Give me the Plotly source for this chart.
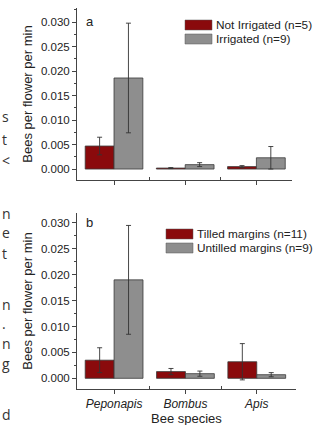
import plotly.graph_objects as go

species = ["Peponapis", "Bombus", "Apis"]
xpos = [0, 1, 2]

# Panel a
not_irrigated = [0.0047, 0.0002, 0.0005]
not_irrigated_err = [0.0018, 0.0001, 0.0002]
irrigated = [0.0186, 0.0009, 0.0023]
irrigated_err = [0.0112, 0.0004, 0.0023]

# Panel b
tilled = [0.0035, 0.0013, 0.0032]
tilled_err = [0.0024, 0.0006, 0.0035]
untilled = [0.0190, 0.0009, 0.0007]
untilled_err = [0.0105, 0.0005, 0.0004]

yticks = [0.000, 0.005, 0.010, 0.015, 0.020, 0.025, 0.030]

RED = "#8a0a0c"
GRAY = "#8e8e8e"
W, H = 328, 425

def py(px):
    return 1 - px / H

fig = go.Figure()

def bar(x, y, err, color, xa, ya):
    return go.Bar(
        x=x, y=y, marker=dict(color=color, line=dict(color="#3a3a3a", width=0.8)),
        error_y=dict(type="data", array=err, color="#333333", thickness=0.9, width=2.5),
        xaxis=xa, yaxis=ya, showlegend=False)

fig.add_trace(bar(xpos, not_irrigated, not_irrigated_err, RED, "x", "y"))
fig.add_trace(bar(xpos, irrigated, irrigated_err, GRAY, "x", "y"))
fig.add_trace(bar(xpos, tilled, tilled_err, RED, "x2", "y2"))
fig.add_trace(bar(xpos, untilled, untilled_err, GRAY, "x2", "y2"))

font = "Liberation Sans, Arial, sans-serif"
axcol = "#444444"

def yaxis_cfg(dom, rng, anchor):
    return dict(domain=dom, range=rng, anchor=anchor, automargin=False,
                tickvals=yticks, tickformat=".3f",
                showline=True, linecolor=axcol, linewidth=1, ticks="outside",
                ticklen=4, tickcolor=axcol, showgrid=False, zeroline=False,
                tickfont=dict(size=11.5, color="#222222", family=font),
                minor=dict(dtick=0.0025, ticks="outside", ticklen=2, tickcolor=axcol),
                title=dict(text="Bees per flower per min",
                           font=dict(size=13, color="#222222", family=font), standoff=5))

def xaxis_cfg(dom, rng, anchor, labels):
    return dict(domain=dom, range=rng, anchor=anchor, automargin=False,
                tickvals=xpos, ticktext=labels, showline=True, linecolor=axcol, linewidth=1,
                ticks="outside", ticklen=4, tickcolor=axcol, showgrid=False, zeroline=False,
                tickfont=dict(size=12, color="#222222", family=font),
                minor=dict(tickvals=[0.5, 1.5], ticks="inside", ticklen=3, tickcolor=axcol))

fig.update_layout(
    width=W, height=H, margin=dict(l=0, r=0, t=0, b=0, autoexpand=False),
    paper_bgcolor="white", plot_bgcolor="white",
    barmode="group", bargap=0.19, bargroupgap=0,
    xaxis=xaxis_cfg([77 / W, 292 / W], [-0.52, 2.5], "y", ["", "", ""]),
    yaxis=yaxis_cfg([py(180), py(8)], [-0.00224, 0.0329], "x"),
    xaxis2=xaxis_cfg([77 / W, 296 / W], [-0.52, 2.55], "y2",
                     ["<i>%s</i>" % s for s in species]),
    yaxis2=yaxis_cfg([py(389), py(213)], [-0.00206, 0.0319], "x2"),
)

ann = []
def txt(x, y, t, size=12, xanchor="left", color="#222222", fam=font):
    ann.append(dict(x=x / W, y=py(y), xref="paper", yref="paper", text=t, showarrow=False,
                    xanchor=xanchor, yanchor="middle", font=dict(size=size, color=color, family=fam)))

txt(84, 22, "a", 13)
txt(84, 222, "b", 13)
txt(186.5, 418, "Bee species", 13, xanchor="center")

# legends
def legend(x0, y0, labels, colors):
    for i, (lab, col) in enumerate(zip(labels, colors)):
        yc = y0 + i * 14
        fig.add_shape(type="rect", xref="paper", yref="paper",
                      x0=x0 / W, x1=(x0 + 27) / W, y0=py(yc + 5), y1=py(yc - 5),
                      fillcolor=col, line=dict(color="#555555", width=0.5))
        txt(x0 + 29, yc, lab, 11.8)

legend(185, 25, ["Not Irrigated (n=5)", "Irrigated (n=9)"], [RED, GRAY])
legend(166, 234, ["Tilled margins (n=11)", "Untilled margins (n=9)"], [RED, GRAY])

# clipped body-text fragments at left edge
body = "Open Sans, sans-serif"
for y, t in [(117, "s"), (139, "t"), (160, "&lt;"), (213, "n"), (232, "e"), (253, "t"),
             (304, "n"), (323, "."), (343, "n"), (363, "g"), (414, "d")]:
    txt(0, y, t, 14, color="#333333", fam=body)

fig.update_layout(annotations=ann)
fig.write_html("out.html", config={"displayModeBar": False, "staticPlot": True},
               post_script="document.body.style.margin='0';document.body.style.overflow='hidden';")
